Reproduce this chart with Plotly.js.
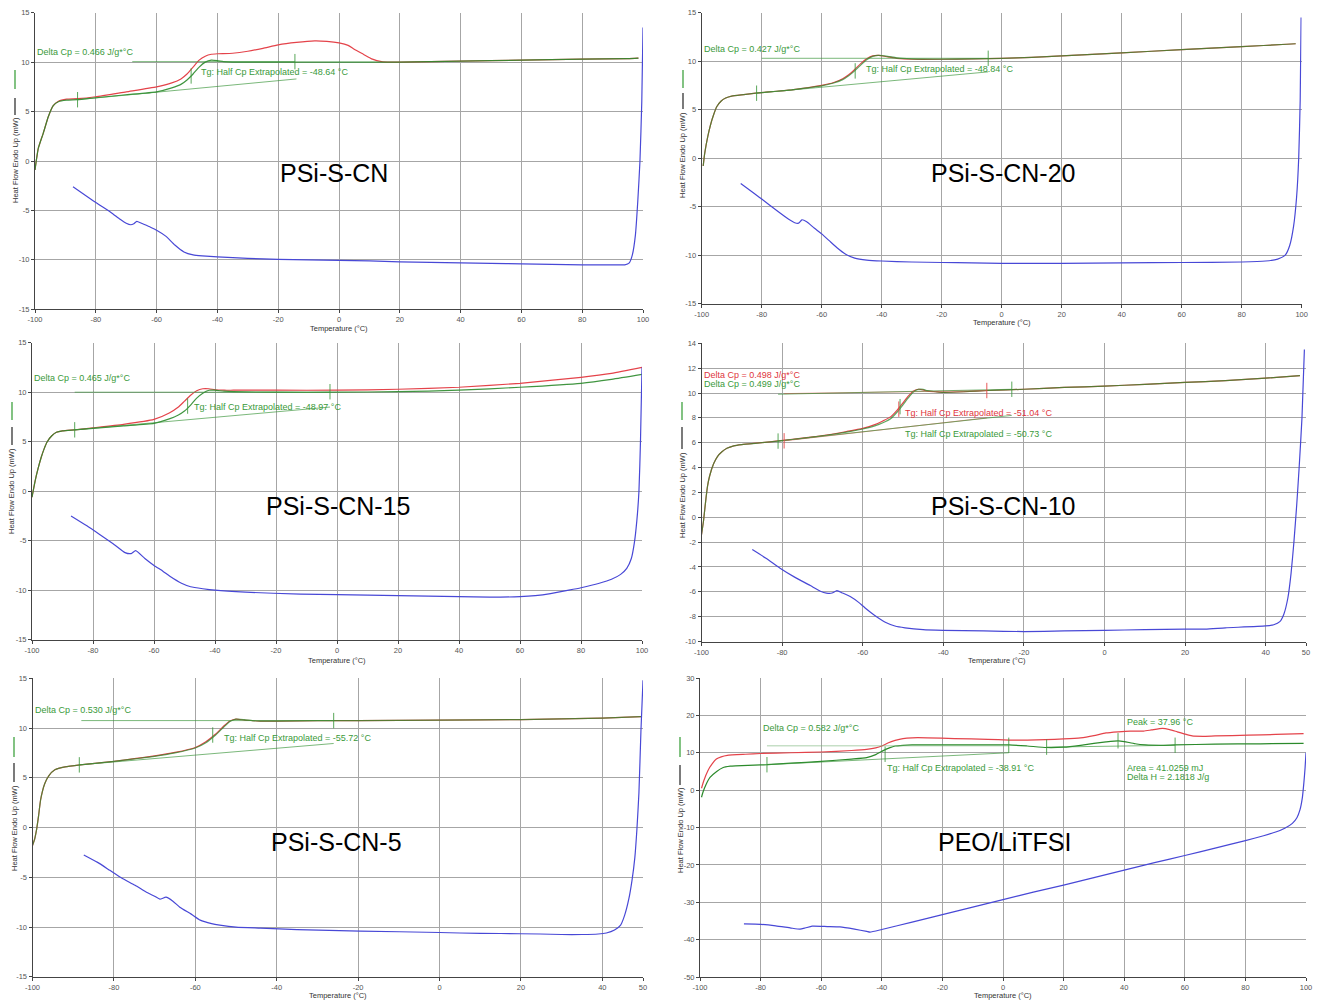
<!DOCTYPE html>
<html><head><meta charset="utf-8">
<script src="https://cdn.plot.ly/plotly-3.0.1.min.js"></script>
<style>body{margin:0;background:#fff}#chart{width:1325px;height:1002px}</style>
</head><body><div id="chart"></div>
<script>
// ---------- tick labels ----------
const X_TICKS_A = [-100,-80,-60,-40,-20,0,20,40,60,80,100];
const X_LABELS_A = ['-100','-80','-60','-40','-20','0','20','40','60','80','100'];
const X_TICKS_B = [-100,-80,-60,-40,-20,0,20,40,50];
const X_LABELS_B = ['-100','-80','-60','-40','-20','0','20','40','50'];
const Y_TICKS_A = [-15,-10,-5,0,5,10,15];
const Y_LABELS_A = ['-15','-10','-5','0','5','10','15'];
const Y_TICKS_B = [-10,-8,-6,-4,-2,0,2,4,6,8,10,12,14];
const Y_LABELS_B = ['-10','-8','-6','-4','-2','0','2','4','6','8','10','12','14'];
const Y_TICKS_C = [-50,-40,-30,-20,-10,0,10,20,30];
const Y_LABELS_C = ['-50','-40','-30','-20','-10','0','10','20','30'];
const SAMPLES = ['PSi-S-CN','PSi-S-CN-20','PSi-S-CN-15','PSi-S-CN-10','PSi-S-CN-5','PEO/LiTFSI'];

// ---------- Panel 1: PSi-S-CN ----------
const P1_GREEN_X = [-100,-98.9,-97.3,-95.6,-94,-92.3,-89.6,-86,-80,-70,-60,-55,-52,-50,-48,-46,-44,-42,-40,-38,-35,-20,0,20,40,60,80,95,98.5];
const P1_GREEN_Y = [-0.9,1.3,2.8,4.5,5.6,6.0,6.15,6.2,6.4,6.7,7.0,7.4,7.75,8.2,8.8,9.5,10.0,10.2,10.15,10.05,10.0,10.0,10.0,10.0,10.1,10.2,10.3,10.35,10.4];
const P1_RED_X = [-100,-98.9,-97.3,-95.6,-94,-92.3,-89.6,-86,-80,-70,-60,-55,-52,-50,-48,-46,-44,-42,-40,-35,-30,-25,-20,-14,-8,-4,0,3,5,8,11,14,17,20,40,60,80,95,98.5];
const P1_RED_Y = [-0.9,1.3,2.8,4.5,5.6,6.05,6.25,6.3,6.5,7.0,7.5,7.9,8.3,8.8,9.5,10.2,10.6,10.8,10.85,10.9,11.1,11.4,11.75,12.0,12.15,12.1,11.95,11.7,11.3,10.8,10.3,10.05,10.0,10.0,10.1,10.2,10.3,10.35,10.4];
const P1_BLUE_X = [-87.5,-80,-75,-72,-70,-68.5,-67.5,-66.5,-65,-62,-60,-57,-54,-51,-48,-45,-40,-30,-20,-10,0,10,20,30,40,50,60,70,80,90,94,95.5,96.5,97.5,98.3,99,99.6,100];
const P1_BLUE_Y = [-2.6,-4.2,-5.2,-5.9,-6.3,-6.45,-6.35,-6.1,-6.3,-6.7,-7.0,-7.6,-8.5,-9.2,-9.5,-9.6,-9.7,-9.85,-9.95,-10.0,-10.05,-10.1,-10.2,-10.25,-10.3,-10.35,-10.4,-10.45,-10.5,-10.5,-10.5,-10.3,-9.5,-7.5,-4,0,6,13.5];
const P1_UPPER_X = [-68,-14.5], P1_UPPER_Y = [10.05,10.05];
const P1_LOWER_X = [-86,-14], P1_LOWER_Y = [6.2,8.3];
const P1_MARK_X = [-86,-48.64,-14.5], P1_MARK_Y = [6.2,8.6,10.05];

// ---------- Panel 2: PSi-S-CN-20 ----------
const P2_GREEN_X = [-99.5,-99,-98,-97,-96,-95,-93.5,-92,-90,-86,-82,-75,-70,-65,-60,-56,-53,-51,-49,-47,-45,-43,-41,-38,-35,-30,-20,-10,0,10,20,40,60,80,95,98];
const P2_GREEN_Y = [-0.8,0.5,2.2,3.5,4.5,5.3,5.9,6.2,6.4,6.55,6.7,6.9,7.05,7.25,7.45,7.75,8.1,8.5,9.0,9.6,10.15,10.5,10.6,10.5,10.35,10.25,10.2,10.25,10.3,10.4,10.55,10.85,11.2,11.5,11.75,11.8];
const P2_RED_Y = [-0.8,0.5,2.2,3.5,4.5,5.3,5.9,6.2,6.4,6.55,6.7,6.9,7.05,7.25,7.5,7.8,8.2,8.6,9.15,9.75,10.25,10.55,10.6,10.45,10.3,10.2,10.2,10.25,10.3,10.4,10.55,10.85,11.2,11.5,11.75,11.8];
const P2_BLUE_X = [-87,-80,-75,-71,-69,-67.7,-66.6,-65,-62.5,-60,-57.5,-55,-52,-49,-45,-40,-30,-20,-10,0,10,20,40,60,80,88,92,94.5,96,97.3,98.3,99,99.5,99.8];
const P2_BLUE_Y = [-2.6,-4.2,-5.4,-6.3,-6.65,-6.7,-6.35,-6.55,-7.2,-7.8,-8.5,-9.2,-9.9,-10.3,-10.5,-10.6,-10.7,-10.75,-10.8,-10.85,-10.85,-10.85,-10.8,-10.75,-10.7,-10.6,-10.4,-10.0,-9.0,-7,-4,0,6,14.5];
const P2_UPPER_X = [-80,-4.5], P2_UPPER_Y = [10.3,10.3];
const P2_LOWER_X = [-81.7,-4.5], P2_LOWER_Y = [6.7,8.9];
const P2_MARK_X = [-81.7,-48.84,-4.5], P2_MARK_Y = [6.7,9.0,10.3];

// ---------- Panel 3: PSi-S-CN-15 ----------
const P3_GREEN_X = [-100,-99,-98,-97,-96,-95,-93.5,-92,-90,-86,-80,-70,-60,-55,-52,-50,-48,-46,-44,-42,-40,-37,-34,-20,0,20,40,60,80,90,100];
const P3_GREEN_Y = [-0.6,1.0,2.3,3.4,4.3,5.0,5.6,5.95,6.1,6.2,6.35,6.6,6.85,7.3,7.7,8.1,8.7,9.4,9.9,10.2,10.2,10.1,10.05,10.0,10.0,10.05,10.2,10.5,10.9,11.3,11.8];
const P3_RED_Y = [-0.6,1.0,2.3,3.4,4.3,5.0,5.6,5.95,6.1,6.2,6.4,6.75,7.25,7.9,8.5,9.1,9.7,10.15,10.35,10.35,10.25,10.2,10.2,10.2,10.2,10.3,10.5,10.9,11.5,11.9,12.5];
const P3_BLUE_X = [-87.2,-82,-77.7,-73,-69.5,-67.5,-66,-63,-60,-57,-54.8,-51,-48,-44,-40,-30,-12,0,20,40,50,60,65,70,76,80,86,90,93,95,96.5,97.5,98.3,99,99.5,100];
const P3_BLUE_Y = [-2.5,-3.5,-4.4,-5.4,-6.2,-6.3,-6.0,-6.8,-7.5,-8.1,-8.6,-9.3,-9.65,-9.85,-10.0,-10.2,-10.4,-10.45,-10.55,-10.65,-10.7,-10.65,-10.55,-10.35,-10.0,-9.75,-9.3,-8.9,-8.4,-7.8,-6.8,-5.2,-3,0,5,12.5];
const P3_UPPER_X = [-86,-2.3], P3_UPPER_Y = [10.0,10.0];
const P3_LOWER_X = [-86,-2.3], P3_LOWER_Y = [6.2,8.5];
const P3_MARK_X = [-86,-48.97,-2.3], P3_MARK_Y = [6.2,8.6,10.05];

// ---------- Panel 4: PSi-S-CN-10 ----------
const P4_GREEN_X = [-100,-99.5,-99,-98.5,-98,-97,-96,-95,-93.7,-92,-90,-85,-81,-75,-69,-64,-60,-57,-55,-53,-51.5,-50,-48.7,-47.5,-46.2,-45,-44,-42,-40,-35,-29,-20,-10,0,10,20,30,40,48.5];
const P4_GREEN_Y = [-1.4,-0.3,1.2,2.5,3.3,4.3,4.9,5.25,5.55,5.75,5.85,6.0,6.13,6.35,6.6,6.85,7.1,7.35,7.6,7.95,8.45,9.05,9.6,10.05,10.3,10.3,10.2,10.1,10.05,10.1,10.2,10.3,10.45,10.55,10.7,10.85,11.0,11.2,11.4];
const P4_RED_Y = [-1.4,-0.3,1.2,2.5,3.3,4.3,4.9,5.25,5.55,5.75,5.85,6.0,6.15,6.37,6.62,6.9,7.15,7.45,7.75,8.1,8.6,9.2,9.75,10.15,10.3,10.25,10.15,10.1,10.05,10.1,10.2,10.3,10.45,10.55,10.7,10.85,11.0,11.2,11.4];
const P4_BLUE_X = [-87.4,-84,-80.5,-77,-73,-70.5,-69,-67.6,-66.4,-65,-63,-61,-59.4,-57,-54.4,-52,-49.5,-45,-40,-30,-20,-10,0,10,20,25,30,40,42,43.5,44.5,45.5,46.3,47,47.7,48.3,49,49.6];
const P4_BLUE_Y = [-2.6,-3.3,-4.1,-4.8,-5.5,-5.95,-6.1,-6.1,-5.9,-6.1,-6.4,-6.85,-7.3,-7.9,-8.45,-8.75,-8.9,-9.05,-9.1,-9.15,-9.2,-9.15,-9.1,-9.05,-9.0,-9.0,-8.9,-8.75,-8.65,-8.4,-7.8,-6.5,-4.5,-2,1,4,8,13.5];
const P4_G_UPPER_X = [-81,-23], P4_G_UPPER_Y = [9.9,10.3];
const P4_G_LOWER_X = [-81,-23], P4_G_LOWER_Y = [6.13,8.2];
const P4_R_UPPER_X = [-79.5,-29.2], P4_R_UPPER_Y = [9.95,10.2];
const P4_R_LOWER_X = [-79.5,-29.2], P4_R_LOWER_Y = [6.15,8.0];
const P4_G_MARK_X = [-81,-50.73,-23], P4_G_MARK_Y = [6.13,8.9,10.3];
const P4_R_MARK_X = [-79.5,-51.04,-29.2], P4_R_MARK_Y = [6.15,8.7,10.2];

// ---------- Panel 5: PSi-S-CN-5 ----------
const P5_GREEN_X = [-100,-99.5,-99,-98.5,-98,-97,-96,-94.5,-92,-88.3,-80,-75,-70,-65,-60,-57.5,-55,-53,-51.5,-50,-48,-46,-44,-40,-30,-20,0,20,40,49.5];
const P5_GREEN_Y = [-1.8,-1.2,-0.2,1.2,2.8,4.4,5.2,5.8,6.1,6.3,6.65,6.9,7.15,7.5,8.0,8.5,9.3,10.1,10.65,10.9,10.85,10.75,10.7,10.7,10.75,10.75,10.8,10.85,11.0,11.15];
const P5_RED_Y = [-1.8,-1.2,-0.2,1.2,2.8,4.4,5.2,5.8,6.1,6.3,6.65,6.92,7.2,7.55,8.05,8.6,9.4,10.2,10.7,10.9,10.8,10.75,10.7,10.7,10.75,10.75,10.8,10.85,11.0,11.15];
const P5_BLUE_X = [-87.4,-84,-81,-78,-74.8,-72,-70,-68.7,-67.2,-65.5,-63.8,-61,-58.8,-56,-54,-50,-44,-35,-19.5,0,5,15,24.7,30,35,39,41,43,44.5,45.5,46.5,47.3,48,48.5,49,49.5,50];
const P5_BLUE_Y = [-2.75,-3.5,-4.3,-5.1,-5.8,-6.5,-6.9,-7.2,-7.0,-7.4,-8.0,-8.7,-9.3,-9.65,-9.8,-10.0,-10.1,-10.25,-10.4,-10.55,-10.6,-10.65,-10.7,-10.75,-10.75,-10.7,-10.6,-10.3,-9.8,-8.8,-7.2,-5.3,-3,-0.2,3.5,9.8,14.8];
const P5_UPPER_X = [-88,-26], P5_UPPER_Y = [10.75,10.75];
const P5_LOWER_X = [-88.5,-26], P5_LOWER_Y = [6.3,8.45];
const P5_MARK_X = [-88.5,-55.72,-26], P5_MARK_Y = [6.3,9.3,10.75];

// ---------- Panel 6: PEO/LiTFSI ----------
const P6_RED_X = [-99.5,-98.75,-97.4,-96,-94.6,-93,-91,-85,-80,-70,-60,-50,-45,-42,-40,-38,-35.6,-33,-30,-25,-16,-5,2,8,14,20,25.6,30,34,38,42,46.4,49,52.6,55,57.5,60,62.4,66,70,81,90,99.2];
const P6_RED_Y = [0.5,2.5,5.2,7.0,8.3,8.9,9.3,9.6,9.8,10.0,10.2,10.6,10.9,11.3,11.8,12.6,13.3,13.8,14.0,14.0,13.8,13.6,13.4,13.4,13.5,13.7,14.0,14.6,15.3,15.6,15.8,15.8,16.1,16.5,16.2,15.6,15.0,14.5,14.4,14.5,14.7,14.9,15.1];
const P6_GREEN_X = [-99.5,-99,-98,-96.7,-94.5,-92.5,-90,-88.3,-80,-77.9,-70,-60,-50,-45,-42,-39.7,-37.5,-35.6,-33,-30,-20,-10,2,8,14.4,20,25.6,30,34,38,40,43.6,47,52,56.8,70,85,99.2];
const P6_GREEN_Y = [-1.9,-0.5,1.5,3.4,5.0,6.0,6.4,6.5,6.75,6.8,7.2,7.7,8.3,8.7,9.5,10.5,11.3,11.8,12.0,12.1,12.1,12.1,12.1,11.8,11.4,11.5,12.0,12.5,12.9,13.2,13.0,12.4,12.1,12.0,12.1,12.3,12.4,12.5];
const P6_BLUE_X = [-85.5,-80,-75,-70,-67,-65.3,-63,-58,-53.8,-49,-45,-43.9,-40,-30,-20,-10,0,10,20,30,40,50,60,70,80,86,90,93,95.5,97,98,98.8,99.3,99.7,100];
const P6_BLUE_Y = [-35.8,-35.9,-36.3,-36.9,-37.2,-36.9,-36.4,-36.5,-36.6,-37.2,-37.8,-38.0,-37.3,-35.3,-33.3,-31.3,-29.3,-27.3,-25.4,-23.4,-21.4,-19.4,-17.5,-15.5,-13.5,-12.2,-11.2,-10.2,-8.9,-7.4,-5.3,-2,2,6,10];
const P6_UPPER_X = [-77.9,1.9], P6_UPPER_Y = [11.85,11.85];
const P6_LOWER_X = [-77.9,1.9], P6_LOWER_Y = [6.8,10.0];
const P6_BASE_X = [14.4,56.8], P6_BASE_Y = [11.5,12.0];
const P6_MARK_X = [-77.9,-38.91,1.9,14.4,37.96,56.8], P6_MARK_Y = [6.8,9.6,12.0,11.5,13.2,12.0];

// ---------- styling / layout ----------
const W = 1325, H = 1002;
const RED = '#e4434a', GREEN = '#2b8a2b', BLUE = '#4848d6', ANL = 'rgba(60,150,60,0.85)';
const TXT_G = '#3a9a3a', TXT_R = '#e0353d';
const FONT = 'Liberation Sans, Arial, sans-serif';

const panels = [
  {l:35, r:643, t:12.7, b:309.3, xr:[-100,100], xt:X_TICKS_A, xl:X_LABELS_A, yr:[-15,15], yt:Y_TICKS_A, yl:Y_LABELS_A,
   xtitle:[339,328], ytitle:[15,160], gmark:[70,89], kmark:[98,115], label:[-1.6,-1.24]},
  {l:701.7, r:1301.7, t:12.7, b:303.7, xr:[-100,100], xt:X_TICKS_A, xl:X_LABELS_A, yr:[-15,15], yt:Y_TICKS_A, yl:Y_LABELS_A,
   xtitle:[1002,323], ytitle:[683,155], gmark:[70,88], kmark:[93,109], label:[0.4,-1.5]},
  {l:32, r:642, t:342.7, b:639.7, xr:[-100,100], xt:X_TICKS_A, xl:X_LABELS_A, yr:[-15,15], yt:Y_TICKS_A, yl:Y_LABELS_A,
   xtitle:[337,660], ytitle:[12,491], gmark:[402,420], kmark:[427,445], label:[0.3,-1.5]},
  {l:701.5, r:1306, t:343.3, b:641.5, xr:[-100,50], xt:X_TICKS_B, xl:X_LABELS_B, yr:[-10,14], yt:Y_TICKS_B, yl:Y_LABELS_B,
   xtitle:[997,660], ytitle:[682,495], gmark:[402,420], kmark:[427,449], label:[-25.2,0.9]},
  {l:32.5, r:643, t:678.3, b:976.8, xr:[-100,50], xt:X_TICKS_B, xl:X_LABELS_B, yr:[-15,15], yt:Y_TICKS_A, yl:Y_LABELS_A,
   xtitle:[338,995], ytitle:[14,828], gmark:[737,757], kmark:[763,782], label:[-25.2,-1.45]},
  {l:700, r:1306, t:678, b:977, xr:[-100,100], xt:X_TICKS_A, xl:X_LABELS_A, yr:[-50,30], yt:Y_TICKS_C, yl:Y_LABELS_C,
   xtitle:[1003,995], ytitle:[680,830], gmark:[737,757], kmark:[765,785], label:[0.4,-14]}
];

const layout = {width:W, height:H, margin:{l:0,r:0,t:0,b:0}, paper_bgcolor:'#fff', plot_bgcolor:'#fff',
  showlegend:false, font:{family:FONT}, annotations:[], shapes:[], hovermode:false};
const traces = [];

function curve(x,y,color,n,op){ traces.push({type:'scatter',mode:'lines',x:x,y:y,xaxis:'x'+n,yaxis:'y'+n,opacity:op||1,
  line:{color:color,width:1.2,shape:'spline',smoothing:0.5},hoverinfo:'skip'}); }
function seg(x,y,color,n){ traces.push({type:'scatter',mode:'lines',x:x,y:y,xaxis:'x'+n,yaxis:'y'+n,
  line:{color:color,width:0.8},hoverinfo:'skip'}); }
function marks(x,y,color,n){ traces.push({type:'scatter',mode:'markers',x:x,y:y,xaxis:'x'+n,yaxis:'y'+n,
  marker:{symbol:'line-ns',size:11,line:{color:color,width:1}},hoverinfo:'skip'}); }
function note(n,x,y,text,color){ layout.annotations.push({xref:'x'+n,yref:'y'+n,x:x,y:y,text:text,showarrow:false,
  xanchor:'left',yanchor:'middle',font:{size:9,color:color,family:FONT}}); }

panels.forEach((p,i)=>{
  const n = i===0 ? '' : String(i+1);
  const ax = {showgrid:true, gridcolor:'#a6a6a6', gridwidth:1, zeroline:false, showline:true, linecolor:'#444', linewidth:1,
    ticks:'outside', ticklen:3, tickwidth:1, tickcolor:'#444', tickfont:{size:7.5,color:'#555',family:FONT}, fixedrange:true, tickmode:'array'};
  layout['xaxis'+n] = Object.assign({}, ax, {domain:[p.l/W, p.r/W], anchor:'y'+n, range:p.xr, tickvals:p.xt, ticktext:p.xl});
  layout['yaxis'+n] = Object.assign({}, ax, {domain:[1-p.b/H, 1-p.t/H], anchor:'x'+n, range:p.yr, tickvals:p.yt, ticktext:p.yl});
  layout.annotations.push({xref:'paper',yref:'paper',x:p.xtitle[0]/W,y:1-p.xtitle[1]/H,text:'Temperature (°C)',showarrow:false,
    xanchor:'center',yanchor:'middle',font:{size:7.5,color:'#333',family:FONT}});
  layout.annotations.push({xref:'paper',yref:'paper',x:p.ytitle[0]/W,y:1-p.ytitle[1]/H,text:'Heat Flow Endo Up (mW)',showarrow:false,
    textangle:-90,xanchor:'center',yanchor:'middle',font:{size:7.5,color:'#333',family:FONT}});
  layout.shapes.push({type:'line',xref:'paper',yref:'paper',x0:p.ytitle[0]/W,x1:p.ytitle[0]/W,y0:1-p.gmark[0]/H,y1:1-p.gmark[1]/H,line:{color:'#2f9a2f',width:1.2}});
  layout.shapes.push({type:'line',xref:'paper',yref:'paper',x0:p.ytitle[0]/W,x1:p.ytitle[0]/W,y0:1-p.kmark[0]/H,y1:1-p.kmark[1]/H,line:{color:'#222',width:1.2}});
  layout.annotations.push({xref:'x'+n,yref:'y'+n,x:p.label[0],y:p.label[1],text:SAMPLES[i],showarrow:false,
    xanchor:'center',yanchor:'middle',font:{size:25,color:'#000',family:FONT}});
});

// Panel 1
curve(P1_RED_X,P1_RED_Y,RED,''); curve(P1_GREEN_X,P1_GREEN_Y,GREEN,'',0.9); curve(P1_BLUE_X,P1_BLUE_Y,BLUE,'');
seg(P1_UPPER_X,P1_UPPER_Y,ANL,''); seg(P1_LOWER_X,P1_LOWER_Y,ANL,''); marks(P1_MARK_X,P1_MARK_Y,ANL,'');
note('',-100,11.0,'Delta Cp = 0.466 J/g*°C',TXT_G); note('',-46,9.0,'Tg: Half Cp Extrapolated = -48.64 °C',TXT_G);
// Panel 2
curve(P2_GREEN_X,P2_RED_Y,RED,'2'); curve(P2_GREEN_X,P2_GREEN_Y,GREEN,'2',0.75); curve(P2_BLUE_X,P2_BLUE_Y,BLUE,'2');
seg(P2_UPPER_X,P2_UPPER_Y,ANL,'2'); seg(P2_LOWER_X,P2_LOWER_Y,ANL,'2'); marks(P2_MARK_X,P2_MARK_Y,ANL,'2');
note('2',-100,11.26,'Delta Cp = 0.427 J/g*°C',TXT_G); note('2',-45.9,9.2,'Tg: Half Cp Extrapolated = -48.84 °C',TXT_G);
// Panel 3
curve(P3_GREEN_X,P3_RED_Y,RED,'3'); curve(P3_GREEN_X,P3_GREEN_Y,GREEN,'3',0.9); curve(P3_BLUE_X,P3_BLUE_Y,BLUE,'3');
seg(P3_UPPER_X,P3_UPPER_Y,ANL,'3'); seg(P3_LOWER_X,P3_LOWER_Y,ANL,'3'); marks(P3_MARK_X,P3_MARK_Y,ANL,'3');
note('3',-100,11.4,'Delta Cp = 0.465 J/g*°C',TXT_G); note('3',-47.6,8.55,'Tg: Half Cp Extrapolated = -48.97 °C',TXT_G);
// Panel 4
curve(P4_GREEN_X,P4_RED_Y,RED,'4'); curve(P4_GREEN_X,P4_GREEN_Y,GREEN,'4',0.75); curve(P4_BLUE_X,P4_BLUE_Y,BLUE,'4');
seg(P4_R_UPPER_X,P4_R_UPPER_Y,'rgba(230,80,80,0.8)','4'); seg(P4_R_LOWER_X,P4_R_LOWER_Y,'rgba(230,80,80,0.8)','4');
seg(P4_G_UPPER_X,P4_G_UPPER_Y,ANL,'4'); seg(P4_G_LOWER_X,P4_G_LOWER_Y,ANL,'4');
marks(P4_R_MARK_X,P4_R_MARK_Y,'rgba(230,70,70,0.9)','4'); marks(P4_G_MARK_X,P4_G_MARK_Y,ANL,'4');
note('4',-100,11.45,'Delta Cp = 0.498 J/g*°C',TXT_R); note('4',-100,10.7,'Delta Cp = 0.499 J/g*°C',TXT_G);
note('4',-49.9,8.41,'Tg: Half Cp Extrapolated = -51.04 °C',TXT_R); note('4',-50,6.7,'Tg: Half Cp Extrapolated = -50.73 °C',TXT_G);
// Panel 5
curve(P5_GREEN_X,P5_RED_Y,RED,'5'); curve(P5_GREEN_X,P5_GREEN_Y,GREEN,'5',0.75); curve(P5_BLUE_X,P5_BLUE_Y,BLUE,'5');
seg(P5_UPPER_X,P5_UPPER_Y,ANL,'5'); seg(P5_LOWER_X,P5_LOWER_Y,ANL,'5'); marks(P5_MARK_X,P5_MARK_Y,ANL,'5');
note('5',-100,11.8,'Delta Cp = 0.530 J/g*°C',TXT_G); note('5',-53.5,9.03,'Tg: Half Cp Extrapolated = -55.72 °C',TXT_G);
// Panel 6
curve(P6_RED_X,P6_RED_Y,RED,'6'); curve(P6_GREEN_X,P6_GREEN_Y,GREEN,'6'); curve(P6_BLUE_X,P6_BLUE_Y,BLUE,'6');
seg(P6_UPPER_X,P6_UPPER_Y,'rgba(120,180,120,0.8)','6'); seg(P6_LOWER_X,P6_LOWER_Y,ANL,'6'); seg(P6_BASE_X,P6_BASE_Y,ANL,'6');
marks(P6_MARK_X,P6_MARK_Y,ANL,'6');
note('6',-80,16.5,'Delta Cp = 0.582 J/g*°C',TXT_G); note('6',-39,5.9,'Tg: Half Cp Extrapolated = -38.91 °C',TXT_G);
note('6',40.1,18.2,'Peak = 37.96 °C',TXT_G); note('6',40.4,5.9,'Area = 41.0259 mJ',TXT_G); note('6',40.4,3.6,'Delta H = 2.1818 J/g',TXT_G);

Plotly.newPlot('chart', traces, layout, {staticPlot:true, displayModeBar:false});
</script></body></html>
